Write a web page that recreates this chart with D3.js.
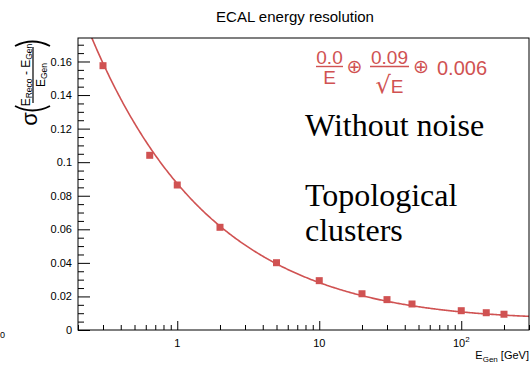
<!DOCTYPE html>
<html>
<head>
<meta charset="utf-8">
<script src="https://cdn.jsdelivr.net/npm/d3@7"></script>
<style>
  html, body { margin: 0; padding: 0; background: #fff; }
  svg { display: block; font-family: "Liberation Sans", Arial, Helvetica, sans-serif; }
</style>
</head>
<body>
<svg id="chart" width="531" height="366"></svg>
<script>
// Generated particle energies (GeV)
const energies = [0.3, 0.64, 1, 2, 5, 10, 20, 30, 45, 100, 150, 200];
// Relative resolution sigma((E_Reco - E_Gen)/E_Gen) at each energy
const resolution = [0.1575, 0.1041, 0.0864, 0.0612, 0.0401, 0.0294, 0.0216, 0.0181, 0.0155, 0.0115, 0.0103, 0.0094];
// Fit: sigma/E = a/E (+) b/sqrt(E) (+) c  (quadrature sum)
const fitA = 0.0, fitB = 0.087, fitC = 0.0064;
// Axis ticks
const yMajorTicks = [0, 0.02, 0.04, 0.06, 0.08, 0.1, 0.12, 0.14, 0.16];
const yTickLabels = ["0", "0.02", "0.04", "0.06", "0.08", "0.1", "0.12", "0.14", "0.16"];
const xMajorTicks = [1, 10, 100];
const xTickLabels = [["1", ""], ["10", ""], ["10", "2"]];
const annotationLines = ["Without noise", "", "Topological", "clusters"];

const red = "#d05252";
const svg = d3.select("#chart");
const L = 78, R = 529, T = 38, B = 330;

const x = d3.scaleLog().domain([0.2, 300]).range([L, R]);
const y = d3.scaleLinear().domain([0, 0.174]).range([B, T]);

// Title
svg.append("text").attr("x", 295).attr("y", 22).attr("text-anchor", "middle")
  .attr("font-size", 15).attr("fill", "#000").text("ECAL energy resolution");

// Y axis: major ticks with labels, minor ticks every 0.005 (drawn inside the frame)
const yAxis = d3.axisLeft(y).tickValues(yMajorTicks).tickSize(-12).tickPadding(6)
  .tickFormat((d, i) => yTickLabels[i]);
const gy = svg.append("g").attr("transform", `translate(${L},0)`).call(yAxis);
gy.select(".domain").remove();
gy.selectAll("text").attr("font-size", 11).attr("font-family", "Liberation Sans, Arial, sans-serif").attr("fill", "#000");
const yMinor = d3.range(0, 0.1741, 0.005).filter(v => !yMajorTicks.some(m => Math.abs(m - v) < 1e-9));
const gym = svg.append("g").attr("transform", `translate(${L},0)`)
  .call(d3.axisLeft(y).tickValues(yMinor).tickSize(-6).tickFormat(""));
gym.select(".domain").remove();

// X axis: log decades, minor ticks at 2..9 of each decade
const xAxis = d3.axisBottom(x).tickValues(xMajorTicks).tickSize(-9).tickPadding(6).tickFormat("");
const gx = svg.append("g").attr("transform", `translate(0,${B})`).call(xAxis);
gx.select(".domain").remove();
const xMinor = [];
[0.1, 1, 10, 100].forEach(dec => { for (let k = 2; k <= 9; k++) { const v = dec * k; if (v >= 0.2 && v <= 300) xMinor.push(v); } });
const gxm = svg.append("g").attr("transform", `translate(0,${B})`)
  .call(d3.axisBottom(x).tickValues(xMinor).tickSize(-5).tickFormat(""));
gxm.select(".domain").remove();
svg.selectAll(".tick line").attr("stroke", "#000");

// X tick labels with superscript exponent
const xl = svg.append("g").selectAll("text").data(xMajorTicks).join("text")
  .attr("x", d => x(d)).attr("y", 347).attr("text-anchor", "middle")
  .attr("font-size", 11).attr("fill", "#000");
xl.append("tspan").text((d, i) => xTickLabels[i][0]);
xl.append("tspan").attr("font-size", 8).attr("dy", -5).text((d, i) => xTickLabels[i][1]);

// Stray label at the far left edge
svg.append("text").attr("x", 0).attr("y", 338).attr("font-size", 9).attr("fill", "#000").text("0");

// X axis title
const xt = svg.append("text").attr("x", R).attr("y", 359).attr("text-anchor", "end")
  .attr("font-size", 11).attr("fill", "#000");
xt.append("tspan").text("E");
xt.append("tspan").attr("font-size", 8).attr("dy", 2.5).text("Gen");
xt.append("tspan").attr("dy", -2.5).text(" [GeV]");

// Y axis title: sigma( (E_Reco - E_Gen) / E_Gen ), rotated
const yt = svg.append("g").attr("transform", "rotate(-90)");
yt.append("text").attr("x", -119).attr("y", 37).attr("text-anchor", "middle")
  .attr("font-size", 22).attr("fill", "#000").text("σ");
const num = yt.append("text").attr("x", -75).attr("y", 29.5).attr("text-anchor", "middle")
  .attr("font-size", 12).attr("fill", "#000");
num.append("tspan").text("E");
num.append("tspan").attr("font-size", 8.5).attr("dy", 2.5).text("Reco");
num.append("tspan").attr("dy", -2.5).text(" - E");
num.append("tspan").attr("font-size", 8.5).attr("dy", 2.5).text("Gen");
yt.append("line").attr("x1", -103).attr("x2", -47).attr("y1", 33).attr("y2", 33)
  .attr("stroke", "#000").attr("stroke-width", 1.2);
const den = yt.append("text").attr("x", -75).attr("y", 44.5).attr("text-anchor", "middle")
  .attr("font-size", 12).attr("fill", "#000");
den.append("tspan").text("E");
den.append("tspan").attr("font-size", 8.5).attr("dy", 2.5).text("Gen");
// large parentheses around the fraction
svg.append("path").attr("d", "M15,46 Q32.5,37 50,46").attr("fill", "none").attr("stroke", "#000").attr("stroke-width", 1.8);
svg.append("path").attr("d", "M15,106 Q32.5,115 50,106").attr("fill", "none").attr("stroke", "#000").attr("stroke-width", 1.8);

// Fit curve
const fitFn = E => Math.sqrt((fitA / E) ** 2 + (fitB / Math.sqrt(E)) ** 2 + fitC ** 2);
const curveE = d3.range(0, 401).map(i => 0.2 * Math.pow(300 / 0.2, i / 400));
svg.append("clipPath").attr("id", "plotClip").append("rect")
  .attr("x", L).attr("y", T).attr("width", R - L).attr("height", B - T);
svg.append("path").datum(curveE).attr("clip-path", "url(#plotClip)")
  .attr("fill", "none").attr("stroke", red).attr("stroke-width", 1.6)
  .attr("d", d3.line().x(E => x(E)).y(E => y(fitFn(E))));

// Data markers
svg.append("g").selectAll("rect").data(energies).join("rect")
  .attr("x", (d) => x(d) - 3.5).attr("y", (d, i) => y(resolution[i]) - 3.5)
  .attr("width", 7).attr("height", 7).attr("fill", red);

// Frame
svg.append("rect").attr("x", L).attr("y", T).attr("width", R - L).attr("height", B - T)
  .attr("fill", "none").attr("stroke", "#000").attr("stroke-width", 1);

// Fit formula in red
const f = svg.append("g").attr("fill", red);
function frac(cx, numTxt, denTxt, barW, sqrtDen) {
  f.append("text").attr("x", cx).attr("y", 63.5).attr("text-anchor", "middle").attr("font-size", 19).text(numTxt);
  f.append("line").attr("x1", cx - barW / 2).attr("x2", cx + barW / 2).attr("y1", 66.5).attr("y2", 66.5)
    .attr("stroke", red).attr("stroke-width", 1.4);
  if (sqrtDen) {
    const t = f.append("text").attr("x", cx).attr("y", 92.5).attr("text-anchor", "middle");
    t.append("tspan").attr("font-size", 24).attr("font-family", "DejaVu Sans").text("√");
    t.append("tspan").attr("font-size", 19).text(denTxt);
  } else {
    f.append("text").attr("x", cx).attr("y", 83.5).attr("text-anchor", "middle").attr("font-size", 19).text(denTxt);
  }
}
frac(329.5, fitA.toFixed(1), "E", 27, false);
f.append("text").attr("x", 354.5).attr("y", 72.5).attr("text-anchor", "middle").attr("font-size", 19)
  .attr("font-family", "DejaVu Sans").text("⊕");
frac(389.5, fitB.toFixed(2), "E", 39, true);
f.append("text").attr("x", 421).attr("y", 72.5).attr("text-anchor", "middle").attr("font-size", 19)
  .attr("font-family", "DejaVu Sans").text("⊕");
f.append("text").attr("x", 437).attr("y", 74.5).attr("font-size", 20).text(fitC.toFixed(3));

// Annotation text
svg.append("g").selectAll("text").data(annotationLines).join("text")
  .attr("x", 305).attr("y", (d, i) => 136 + i * 35)
  .attr("font-family", "Liberation Serif, Times New Roman, serif").attr("font-size", 32)
  .attr("fill", "#000").text(d => d);
</script>
</body>
</html>
